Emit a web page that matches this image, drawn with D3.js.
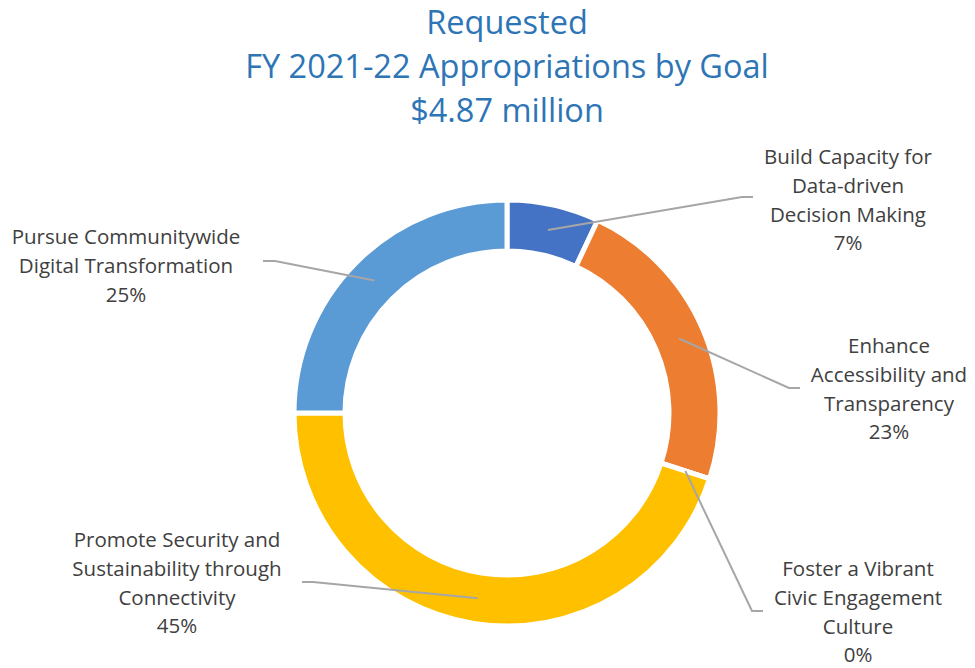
<!DOCTYPE html>
<html>
<head>
<meta charset="utf-8">
<script src="https://cdn.jsdelivr.net/npm/d3@7"></script>
<style>
  body { margin: 0; background: #fff; }
  text { font-family: "Open Sans", Lato, sans-serif; }
</style>
</head>
<body>
<div id="chart"></div>
<script>
var categories = [
	"Build Capacity for Data-driven Decision Making",
	"Enhance Accessibility and Transparency",
	"Foster a Vibrant Civic Engagement Culture",
	"Promote Security and Sustainability through Connectivity",
	"Pursue Communitywide Digital Transformation"
];
var values = [7, 23, 0, 45, 25];
var titleLines = ["Requested", "FY 2021-22 Appropriations by Goal", "$4.87 million"];

var colors = ["#4472C4", "#ED7D31", "#A5A5A5", "#FFC000", "#5B9BD5"];

// label placement (lines, text centre, first line y, elbow, end of leader)
var labelLayout = [
	{lines: ["Build Capacity for", "Data-driven", "Decision Making"], x: 848, y: 157, elbow: [742, 197], end: [753, 197]},
	{lines: ["Enhance", "Accessibility and", "Transparency"], x: 889, y: 346, elbow: [789, 388], end: [800, 388]},
	{lines: ["Foster a Vibrant", "Civic Engagement", "Culture"], x: 858, y: 569, elbow: [752, 611], end: [763, 611]},
	{lines: ["Promote Security and", "Sustainability through", "Connectivity"], x: 177, y: 540, elbow: [313, 582], end: [302, 582]},
	{lines: ["Pursue Communitywide", "Digital Transformation"], x: 126, y: 237, elbow: [275, 261], end: [263, 261]}
];

var chart_width = 975,
	chart_height = 668,
	cx = 507,
	cy = 413,
	outer_r = 213,
	inner_r = 162,
	line_h = 28.7;

var svg = d3.select("#chart")
	.append("svg")
		.attr("width", chart_width)
		.attr("height", chart_height);

// title
svg.append("g")
	.selectAll("text")
	.data(titleLines)
	.enter()
	.append("text")
	.attr("x", 507)
	.attr("y", function(d, i) { return 23 + i * 44; })
	.attr("dy", "0.35em")
	.attr("text-anchor", "middle")
	.attr("font-size", 32.5)
	.attr("fill", "#2E75B6")
	.text(function(d) { return d; });

var data = categories.map(function(c, i) {
	return {name: c, value: values[i], color: colors[i], layout: labelLayout[i]};
});

var pie = d3.pie()
	.sort(null)
	.value(function(d) { return d.value; });

var arc = d3.arc()
	.innerRadius(inner_r)
	.outerRadius(outer_r);

var mid = d3.arc()
	.innerRadius((inner_r + outer_r) / 2)
	.outerRadius((inner_r + outer_r) / 2);

var arcs = pie(data);

var g = svg.append("g")
	.attr("transform", "translate(" + cx + "," + cy + ")");

g.selectAll("path")
	.data(arcs)
	.enter()
	.append("path")
	.attr("d", arc)
	.attr("fill", function(d) { return d.data.color; })
	.attr("stroke", "#fff")
	.attr("stroke-width", 5)
	.attr("stroke-linejoin", "miter");

// leader lines
svg.append("g")
	.selectAll("polyline")
	.data(arcs)
	.enter()
	.append("polyline")
	.attr("points", function(d) {
		var c = mid.centroid(d);
		var L = d.data.layout;
		return [[cx + c[0], cy + c[1]], L.elbow, L.end].map(function(p) { return p.join(","); }).join(" ");
	})
	.attr("fill", "none")
	.attr("stroke", "#A6A6A6")
	.attr("stroke-width", 2);

// labels
var labels = svg.append("g")
	.selectAll("text")
	.data(arcs)
	.enter()
	.append("text")
	.attr("text-anchor", "middle")
	.attr("font-size", 20.5)
	.attr("fill", "#404040");

labels.each(function(d) {
	var L = d.data.layout;
	var t = d3.select(this);
	var lines = L.lines.concat([d3.format(".0%")(d.data.value / d3.sum(values))]);
	lines.forEach(function(s, i) {
		t.append("tspan")
			.attr("x", L.x)
			.attr("y", L.y + i * line_h)
			.attr("dy", "0.35em")
			.text(s);
	});
});
</script>
</body>
</html>
